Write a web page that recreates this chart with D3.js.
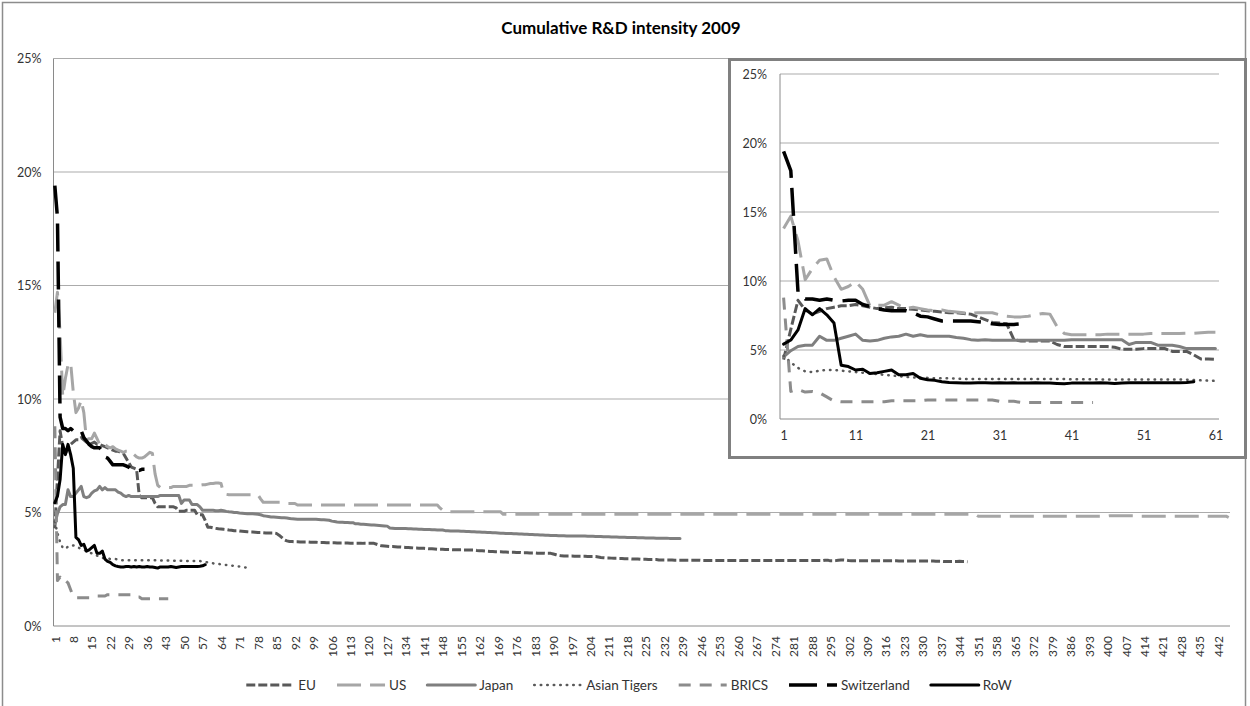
<!DOCTYPE html>
<html><head><meta charset="utf-8">
<script src="https://cdn.jsdelivr.net/npm/d3@7"></script>
<style>
html,body{margin:0;padding:0;background:#fff;}
svg{display:block;}
text{font-family:Lato,"Open Sans",sans-serif;}
</style></head><body>
<svg id="chart" width="1250" height="706"></svg>
<script>
// ---------------- DATA (values in %) ----------------
const nCategories = 446;
const categories = d3.range(1, nCategories + 1);
const mainTickLabels = [1,8,15,22,29,36,43,50,57,64,71,78,85,92,99,106,113,120,127,134,141,148,155,162,169,176,183,190,197,204,211,218,225,232,239,246,253,260,267,274,281,288,295,302,309,316,323,330,337,344,351,358,365,372,379,386,393,400,407,414,421,428,435,442];
const insetCount = 61;
const insetTickLabels = [1,11,21,31,41,51,61];
const yTicks = [0,5,10,15,20,25];
const seriesNames = ["EU","US","Japan","Asian Tigers","BRICS","Switzerland","RoW"];

const EU = [
4.3,6.5,8.6,7.9,7.6,7.8,8.0,8.1,8.2,8.2,
8.3,8.2,8.1,8.0,8.05,8.1,8.0,8.0,7.95,7.9,
7.85,7.8,7.75,7.7,7.7,7.65,7.6,7.4,7.2,7.0,
6.95,6.9,5.75,5.65,5.65,5.65,5.65,5.65,5.4,5.25,
5.25,5.25,5.25,5.25,5.25,5.25,5.2,5.05,5.05,5.05,
5.1,5.1,5.1,5.1,4.9,4.9,4.9,4.65,4.35,4.35,
4.32,4.3,4.28,4.27,4.26,4.25,4.23,4.22,4.2,4.2,
4.18,4.17,4.16,4.15,4.14,4.14,4.13,4.12,4.12,4.11,
4.1,4.1,4.1,4.1,4.08,4.0,3.9,3.8,3.75,3.72,
3.72,3.71,3.71,3.7,3.7,3.7,3.7,3.69,3.69,3.69,
3.68,3.68,3.68,3.67,3.67,3.67,3.67,3.66,3.66,3.66,
3.66,3.66,3.65,3.65,3.65,3.65,3.65,3.64,3.64,3.64,
3.64,3.64,3.6,3.56,3.53,3.52,3.51,3.5,3.5,3.49,
3.48,3.48,3.47,3.46,3.46,3.45,3.44,3.44,3.43,3.42,
3.42,3.41,3.4,3.4,3.39,3.38,3.38,3.38,3.37,3.37,
3.37,3.36,3.36,3.36,3.36,3.35,3.35,3.35,3.35,3.35,
3.33,3.32,3.31,3.3,3.29,3.28,3.28,3.27,3.27,3.27,
3.26,3.26,3.25,3.25,3.25,3.24,3.24,3.23,3.23,3.23,
3.22,3.22,3.22,3.21,3.21,3.21,3.2,3.2,3.2,3.17,
3.14,3.11,3.09,3.08,3.08,3.08,3.08,3.07,3.07,3.07,
3.07,3.07,3.06,3.06,3.06,3.06,3.04,3.02,3.01,3.0,
3.0,2.99,2.98,2.98,2.97,2.97,2.96,2.96,2.96,2.95,
2.95,2.95,2.94,2.94,2.94,2.93,2.93,2.93,2.93,2.91,
2.91,2.91,2.91,2.91,2.91,2.9,2.9,2.9,2.9,2.9,
2.9,2.9,2.9,2.9,2.9,2.89,2.89,2.89,2.89,2.89,
2.89,2.89,2.89,2.89,2.89,2.89,2.89,2.89,2.89,2.89,
2.88,2.88,2.88,2.88,2.88,2.88,2.88,2.88,2.88,2.88,
2.88,2.88,2.88,2.88,2.88,2.88,2.88,2.88,2.88,2.88,
2.88,2.88,2.88,2.88,2.88,2.88,2.88,2.88,2.88,2.88,
2.88,2.88,2.9,2.9,2.87,2.87,2.88,2.9,2.91,2.91,
2.9,2.88,2.87,2.87,2.87,2.87,2.87,2.87,2.87,2.87,
2.87,2.87,2.87,2.87,2.87,2.87,2.87,2.87,2.87,2.87,
2.86,2.86,2.86,2.86,2.86,2.86,2.86,2.86,2.86,2.86,
2.86,2.86,2.86,2.86,2.85,2.85,2.85,2.84,2.84,2.84,
2.84,2.84,2.84,2.85,2.84,2.84,2.83];

const US = [
13.8,14.7,12.9,10.1,10.9,11.5,11.6,10.3,9.4,9.6,
9.95,9.4,8.2,8.25,8.25,8.5,8.25,8.0,8.1,8.0,
7.9,7.85,7.9,7.8,7.75,7.7,7.65,7.7,7.7,7.7,
7.55,7.45,7.4,7.4,7.45,7.55,7.65,7.6,6.7,6.2,
6.1,6.1,6.1,6.1,6.1,6.15,6.15,6.15,6.15,6.15,
6.15,6.2,6.2,6.2,6.2,6.2,6.22,6.22,6.25,6.28,
6.28,6.3,6.3,6.28,5.85,5.8,5.78,5.78,5.78,5.78,
5.78,5.78,5.78,5.78,5.78,5.78,5.78,5.78,5.6,5.45,
5.45,5.45,5.45,5.45,5.45,5.45,5.45,5.45,5.4,5.4,
5.4,5.4,5.33,5.33,5.33,5.33,5.33,5.33,5.33,5.33,
5.33,5.33,5.33,5.33,5.33,5.33,5.33,5.33,5.33,5.33,
5.33,5.33,5.33,5.33,5.33,5.33,5.33,5.33,5.33,5.33,
5.33,5.33,5.33,5.33,5.33,5.33,5.33,5.33,5.33,5.33,
5.33,5.33,5.33,5.33,5.33,5.33,5.33,5.33,5.33,5.33,
5.33,5.33,5.33,5.33,5.33,5.33,5.2,5.1,5.03,5.03,
5.03,5.03,5.03,5.03,5.03,5.03,5.03,5.03,5.03,5.03,
5.03,5.03,5.03,5.03,5.03,5.03,5.03,5.03,5.03,5.03,
4.92,4.92,4.92,4.92,4.92,4.92,4.92,4.92,4.92,4.92,
4.92,4.92,4.92,4.92,4.92,4.92,4.92,4.92,4.92,4.92,
4.92,4.92,4.92,4.92,4.92,4.92,4.92,4.92,4.92,4.92,
4.92,4.92,4.92,4.92,4.92,4.92,4.92,4.92,4.92,4.92,
4.92,4.92,4.92,4.92,4.92,4.92,4.92,4.92,4.92,4.92,
4.92,4.92,4.92,4.92,4.92,4.92,4.92,4.92,4.92,4.92,
4.92,4.92,4.92,4.92,4.92,4.92,4.92,4.92,4.92,4.92,
4.92,4.92,4.92,4.92,4.92,4.92,4.92,4.92,4.92,4.92,
4.92,4.92,4.92,4.92,4.92,4.92,4.92,4.92,4.92,4.92,
4.92,4.92,4.92,4.92,4.92,4.92,4.92,4.92,4.92,4.92,
4.92,4.92,4.92,4.92,4.92,4.92,4.92,4.92,4.92,4.92,
4.92,4.92,4.92,4.92,4.92,4.92,4.92,4.92,4.92,4.92,
4.92,4.92,4.92,4.92,4.92,4.92,4.92,4.92,4.92,4.92,
4.92,4.92,4.92,4.92,4.92,4.92,4.92,4.92,4.92,4.92,
4.92,4.92,4.92,4.92,4.92,4.92,4.92,4.92,4.92,4.92,
4.92,4.92,4.92,4.92,4.92,4.92,4.92,4.92,4.92,4.92,
4.92,4.92,4.92,4.92,4.92,4.92,4.92,4.92,4.92,4.92,
4.92,4.92,4.92,4.92,4.92,4.92,4.92,4.92,4.92,4.92,
4.84,4.84,4.84,4.84,4.84,4.84,4.84,4.84,4.84,4.84,
4.84,4.84,4.84,4.84,4.84,4.84,4.84,4.84,4.84,4.84,
4.84,4.84,4.84,4.84,4.84,4.84,4.84,4.84,4.84,4.84,
4.84,4.84,4.84,4.84,4.84,4.84,4.84,4.84,4.84,4.84,
4.84,4.84,4.84,4.84,4.84,4.84,4.84,4.84,4.84,4.84,
4.86,4.86,4.86,4.86,4.86,4.86,4.86,4.86,4.86,4.86,
4.84,4.84,4.84,4.84,4.84,4.84,4.84,4.84,4.84,4.84,
4.84,4.84,4.84,4.84,4.84,4.84,4.84,4.84,4.84,4.84,
4.84,4.84,4.84,4.84,4.84,4.84,4.84,4.84,4.84,4.84,
4.84,4.84,4.84,4.84,4.84,4.78];

const Japan = [
4.5,4.95,5.25,5.35,5.35,6.0,5.7,5.7,5.85,6.0,
6.15,5.7,5.65,5.7,5.85,5.95,6.0,6.15,6.0,6.1,
6.0,6.0,6.0,6.0,5.9,5.85,5.75,5.7,5.75,5.7,
5.7,5.7,5.7,5.7,5.7,5.7,5.7,5.7,5.7,5.7,
5.75,5.75,5.75,5.75,5.75,5.75,5.75,5.75,5.4,5.55,
5.55,5.55,5.35,5.35,5.35,5.25,5.1,5.1,5.1,5.1,
5.1,5.08,5.08,5.1,5.08,5.05,5.03,5.02,5.0,5.0,
4.98,4.97,4.96,4.95,4.95,4.94,4.93,4.92,4.9,4.86,
4.84,4.82,4.8,4.8,4.79,4.78,4.77,4.77,4.76,4.74,
4.72,4.71,4.7,4.7,4.7,4.7,4.7,4.7,4.7,4.7,
4.69,4.68,4.68,4.67,4.66,4.62,4.6,4.58,4.57,4.57,
4.56,4.56,4.55,4.55,4.5,4.5,4.48,4.48,4.47,4.46,
4.45,4.45,4.44,4.43,4.42,4.41,4.4,4.32,4.31,4.3,
4.3,4.3,4.29,4.29,4.28,4.28,4.27,4.27,4.26,4.26,
4.25,4.25,4.25,4.24,4.24,4.23,4.23,4.23,4.2,4.2,
4.19,4.19,4.18,4.18,4.17,4.17,4.16,4.16,4.15,4.15,
4.14,4.14,4.13,4.13,4.12,4.12,4.11,4.11,4.1,4.09,
4.09,4.08,4.08,4.07,4.06,4.06,4.05,4.05,4.04,4.04,
4.03,4.03,4.02,4.02,4.01,4.01,4.0,4.0,3.99,3.99,
3.99,3.98,3.98,3.98,3.97,3.97,3.97,3.97,3.96,3.96,
3.96,3.96,3.95,3.95,3.95,3.94,3.94,3.94,3.93,3.93,
3.93,3.92,3.92,3.92,3.91,3.91,3.91,3.9,3.9,3.9,
3.9,3.89,3.89,3.89,3.88,3.88,3.88,3.88,3.87,3.87,
3.87,3.87,3.87,3.86,3.86,3.86,3.86,3.86];

const AsianTigers = [
4.6,4.1,3.7,3.45,3.4,3.5,3.55,3.55,3.5,3.45,
3.4,3.35,3.3,3.25,3.2,3.15,3.1,3.05,3.0,3.0,
2.98,2.95,2.95,2.95,2.92,2.9,2.9,2.9,2.9,2.9,
2.9,2.9,2.9,2.9,2.9,2.9,2.9,2.9,2.9,2.9,
2.88,2.88,2.88,2.88,2.87,2.87,2.87,2.87,2.87,2.87,
2.86,2.86,2.86,2.86,2.86,2.86,2.85,2.82,2.8,2.78,
2.76,2.74,2.73,2.72,2.7,2.69,2.68,2.66,2.65,2.63,
2.62,2.6,2.58,2.57,2.55];

const BRICS = [
8.8,2.0,2.15,1.95,2.0,1.9,1.6,1.3,1.25,1.25,
1.25,1.25,1.25,1.25,1.25,1.32,1.32,1.32,1.32,1.32,
1.38,1.38,1.38,1.38,1.38,1.38,1.38,1.38,1.38,1.38,
1.28,1.28,1.28,1.2,1.2,1.2,1.2,1.2,1.2,1.2,
1.2,1.2,1.2,1.2];

const Switzerland = [
19.4,18.0,9.2,8.7,8.7,8.6,8.7,8.6,8.55,8.6,
8.6,8.3,8.15,8.0,7.9,7.85,7.85,7.85,7.7,7.45,
7.4,7.25,7.1,7.1,7.1,7.1,7.1,7.05,7.0,6.9,
6.85,6.85,6.85,6.9,6.9];

const RoW = [
5.43,5.72,6.45,8.0,7.55,8.0,7.55,6.95,3.9,3.8,
3.55,3.6,3.3,3.35,3.45,3.55,3.2,3.2,3.3,2.95,
2.85,2.8,2.7,2.65,2.62,2.6,2.6,2.62,2.62,2.6,
2.62,2.6,2.62,2.6,2.6,2.62,2.6,2.6,2.58,2.55,
2.6,2.6,2.6,2.6,2.62,2.6,2.58,2.6,2.62,2.62,
2.62,2.62,2.62,2.62,2.62,2.63,2.65,2.7];

// ---------------- STYLES ----------------
const seriesValues = {"EU":EU,"US":US,"Japan":Japan,"Asian Tigers":AsianTigers,"BRICS":BRICS,"Switzerland":Switzerland,"RoW":RoW};
const styles = {
  "EU":          {color:"#595959", width:3,   dash:"9,3",   cap:"butt"},
  "US":          {color:"#a6a6a6", width:3,   dash:"24,9",  cap:"butt"},
  "Japan":       {color:"#7f7f7f", width:3,   dash:null,    cap:"round"},
  "Asian Tigers":{color:"#595959", width:2.5, dash:"0.5,6", cap:"round"},
  "BRICS":       {color:"#8c8c8c", width:3,   dash:"12,9",  cap:"butt"},
  "Switzerland": {color:"#000000", width:3.5, dash:"28,10", cap:"butt"},
  "RoW":         {color:"#000000", width:3,   dash:null,    cap:"round"}
};
const gridColor = "#ababab", axisColor = "#8a8a8a", textColor = "#333";

const svg = d3.select("#chart");

// outer chart frame
svg.append("rect").attr("x",2.5).attr("y",2.5).attr("width",1243).attr("height",730)
  .attr("fill","#fff").attr("stroke","#8c8c8c").attr("stroke-width",1.5);

// title
svg.append("text").attr("x",621).attr("y",34).attr("text-anchor","middle")
  .attr("font-weight","bold").attr("font-size",17).attr("fill","#000")
  .text("Cumulative R&D intensity 2009");

// ---------------- MAIN CHART ----------------
const M = {left:53.5, right:1230, top:58.5, bottom:626};
const x = d3.scalePoint().domain(categories).range([M.left, M.right]).padding(0.5);
const y = d3.scaleLinear().domain([0,25]).range([M.bottom, M.top]);

const gMain = svg.append("g");
gMain.selectAll("line.grid").data(yTicks.filter(t=>t>0)).join("line")
  .attr("x1",M.left).attr("x2",M.right).attr("y1",d=>y(d)).attr("y2",d=>y(d))
  .attr("stroke",gridColor).attr("stroke-width",1);
gMain.append("line").attr("x1",M.left).attr("x2",M.left).attr("y1",M.top).attr("y2",M.bottom)
  .attr("stroke",axisColor).attr("stroke-width",1);
gMain.append("line").attr("x1",M.left).attr("x2",M.right).attr("y1",M.bottom).attr("y2",M.bottom)
  .attr("stroke",axisColor).attr("stroke-width",1);

const yAx = gMain.append("g").attr("transform",`translate(${M.left},0)`)
  .call(d3.axisLeft(y).tickValues(yTicks).tickSize(0).tickPadding(12).tickFormat(d=>d+"%"));
yAx.select(".domain").remove();
yAx.selectAll("text").attr("font-size",12.5).attr("fill",textColor).style("font-family","Lato,sans-serif");

const xAx = gMain.append("g").attr("transform",`translate(0,${M.bottom})`)
  .call(d3.axisBottom(x).tickValues(mainTickLabels).tickSize(0));
xAx.select(".domain").remove();
xAx.selectAll("text").attr("transform","rotate(-90)").attr("text-anchor","end")
  .attr("x",-10).attr("y",0).attr("dy","0.35em")
  .attr("font-size",12).attr("fill",textColor).style("font-family","Lato,sans-serif");

function drawSeries(g, xs, ys, limit) {
  seriesNames.forEach(name => {
    const st = styles[name];
    const vals = seriesValues[name].slice(0, limit);
    const pts = vals.map((v,i)=>({c:categories[i], v:v}));
    const line = d3.line().x(d=>xs(d.c)).y(d=>ys(d.v));
    g.append("path").datum(pts).attr("d",line).attr("fill","none")
      .attr("stroke",st.color).attr("stroke-width",st.width)
      .attr("stroke-dasharray",st.dash).attr("stroke-linecap",st.cap)
      .attr("stroke-linejoin","round");
  });
}
drawSeries(gMain.append("g"), x, y, nCategories);

// ---------------- INSET ----------------
const gIn = svg.append("g");
gIn.append("rect").attr("x",729.5).attr("y",59.5).attr("width",516).attr("height",398)
  .attr("fill","#fff").attr("stroke","#808080").attr("stroke-width",3);
const I = {left:780, right:1219, top:74, bottom:419};
const insetCats = categories.slice(0, insetCount);
const xi = d3.scalePoint().domain(insetCats).range([I.left, I.right]).padding(0.5);
const yi = d3.scaleLinear().domain([0,25]).range([I.bottom, I.top]);
gIn.selectAll("line.grid").data(yTicks.filter(t=>t>0)).join("line")
  .attr("x1",I.left).attr("x2",I.right).attr("y1",d=>yi(d)).attr("y2",d=>yi(d))
  .attr("stroke",gridColor).attr("stroke-width",1);
gIn.append("line").attr("x1",I.left).attr("x2",I.left).attr("y1",I.top).attr("y2",I.bottom)
  .attr("stroke",axisColor).attr("stroke-width",1);
gIn.append("line").attr("x1",I.left).attr("x2",I.right).attr("y1",I.bottom).attr("y2",I.bottom)
  .attr("stroke",axisColor).attr("stroke-width",1);
const yiAx = gIn.append("g").attr("transform",`translate(${I.left},0)`)
  .call(d3.axisLeft(yi).tickValues(yTicks).tickSize(0).tickPadding(13).tickFormat(d=>d+"%"));
yiAx.select(".domain").remove();
yiAx.selectAll("text").attr("font-size",12.5).attr("fill",textColor).style("font-family","Lato,sans-serif");
const xiAx = gIn.append("g").attr("transform",`translate(0,${I.bottom})`)
  .call(d3.axisBottom(xi).tickValues(insetTickLabels).tickSize(0).tickPadding(12));
xiAx.select(".domain").remove();
xiAx.selectAll("text").attr("font-size",12.5).attr("fill",textColor).style("font-family","Lato,sans-serif");
drawSeries(gIn.append("g"), xi, yi, insetCount);

// ---------------- LEGEND ----------------
const legY = 685, sampleLen = 48, textGap = 4, itemGap = 21, legCenter = 629;
const gLeg = svg.append("g");
const items = seriesNames.map(name => {
  const t = gLeg.append("text").attr("font-size",13.5).attr("fill",textColor)
    .attr("dy","0.35em").attr("y",legY).text(name);
  return {name, t, w: t.node().getComputedTextLength()};
});
const total = d3.sum(items, d=>sampleLen+textGap+d.w) + itemGap*(items.length-1);
let cx = legCenter - total/2;
items.forEach(it => {
  const st = styles[it.name];
  gLeg.append("line").attr("x1",cx).attr("x2",cx+sampleLen).attr("y1",legY).attr("y2",legY)
    .attr("stroke",st.color).attr("stroke-width",st.width)
    .attr("stroke-dasharray",st.dash).attr("stroke-linecap",st.cap);
  it.t.attr("x",cx+sampleLen+textGap);
  cx += sampleLen + textGap + it.w + itemGap;
});
</script>
</body></html>
